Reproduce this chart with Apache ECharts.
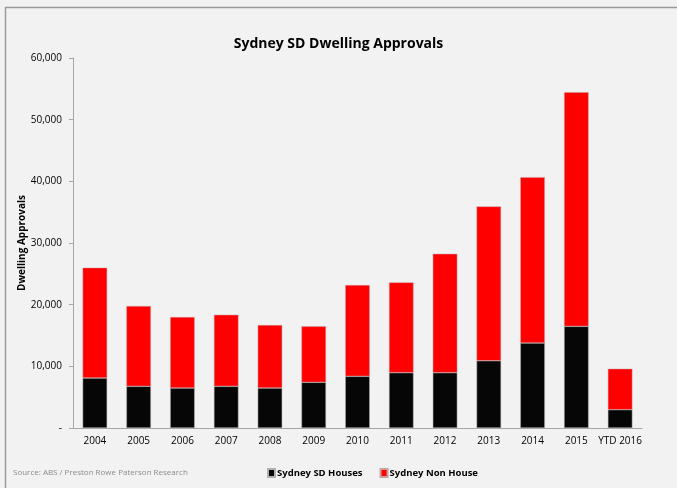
<!DOCTYPE html>
<html><head><meta charset="utf-8">
<script src="https://cdn.jsdelivr.net/npm/echarts@6/dist/echarts.min.js"></script>
<style>html,body{margin:0;padding:0;background:#fff}#c{width:677px;height:488px}</style>
</head><body><div id="c"></div>
<script>
var categories = ['2004','2005','2006','2007','2008','2009','2010','2011','2012','2013','2014','2015','YTD 2016'];
var houses = [8100, 6760, 6480, 6760, 6480, 7400, 8380, 8970, 8970, 10910, 13780, 16480, 2970];
var nonHouse = [17900, 13010, 11510, 11600, 10210, 9080, 14800, 14640, 19280, 25020, 26900, 37980, 6640];
var yTicks = [0, 10000, 20000, 30000, 40000, 50000, 60000];

var font = '"Open Sans", "Liberation Sans", sans-serif';
var chart = echarts.init(document.getElementById('c'));
chart.setOption({
  backgroundColor: '#f2f2f2',
  animation: false,
  graphic: [{
    type: 'rect', left: 3, top: 5, shape: {width: 690, height: 500},
    style: {fill: 'none', stroke: '#9a9a9a', lineWidth: 1.5}, silent: true
  }, {
    type: 'text', left: 13, top: 469,
    style: {text: 'Source: ABS / Preston Rowe Paterson Research', fill: '#8c8c8c', font: '8px ' + font}
  }],
  title: {
    text: 'Sydney SD Dwelling Approvals', left: 'center', top: 32,
    textStyle: {fontFamily: font, fontWeight: 'bold', fontSize: 14, color: '#000'}
  },
  legend: {
    top: 463, left: 262, itemWidth: 7, itemHeight: 8, itemGap: 17,
    icon: 'rect',
    textStyle: {fontFamily: font, fontWeight: 'bold', fontSize: 9.5, color: '#000', padding: [0,0,0,-3]},
    data: ['Sydney SD Houses', 'Sydney Non House']
  },
  grid: {left: 73, right: 35, top: 58, bottom: 60},
  xAxis: {
    type: 'category', data: categories,
    axisLine: {lineStyle: {color: '#a6a6a6'}},
    axisTick: {lineStyle: {color: '#a6a6a6'}, length: 4},
    axisLabel: {fontFamily: font, fontSize: 10, color: '#000', margin: 8, interval: 0}
  },
  yAxis: {
    type: 'value', min: yTicks[0], max: yTicks[yTicks.length-1], interval: 10000,
    name: 'Dwelling Approvals', nameLocation: 'middle', nameGap: 46, nameMoveOverlap: false,
    nameTextStyle: {fontFamily: font, fontWeight: 'bold', fontSize: 10, color: '#000'},
    axisLine: {show: true, lineStyle: {color: '#a6a6a6'}},
    axisTick: {show: true, lineStyle: {color: '#a6a6a6'}, length: 4},
    splitLine: {show: false},
    axisLabel: {fontFamily: font, fontSize: 10, color: '#000', margin: 11,
      formatter: function(v){ return v === 0 ? '-' : v.toLocaleString('en-US'); }}
  },
  series: [{
    name: 'Sydney SD Houses', type: 'bar', stack: 't', data: houses, barWidth: '56%',
    itemStyle: {color: '#060606', borderColor: '#b0b0b0', borderWidth: 0.5}
  }, {
    name: 'Sydney Non House', type: 'bar', stack: 't', data: nonHouse, barWidth: '56%',
    itemStyle: {color: '#fe0000', borderColor: '#c8a0a0', borderWidth: 0.5}
  }]
});
</script></body></html>
